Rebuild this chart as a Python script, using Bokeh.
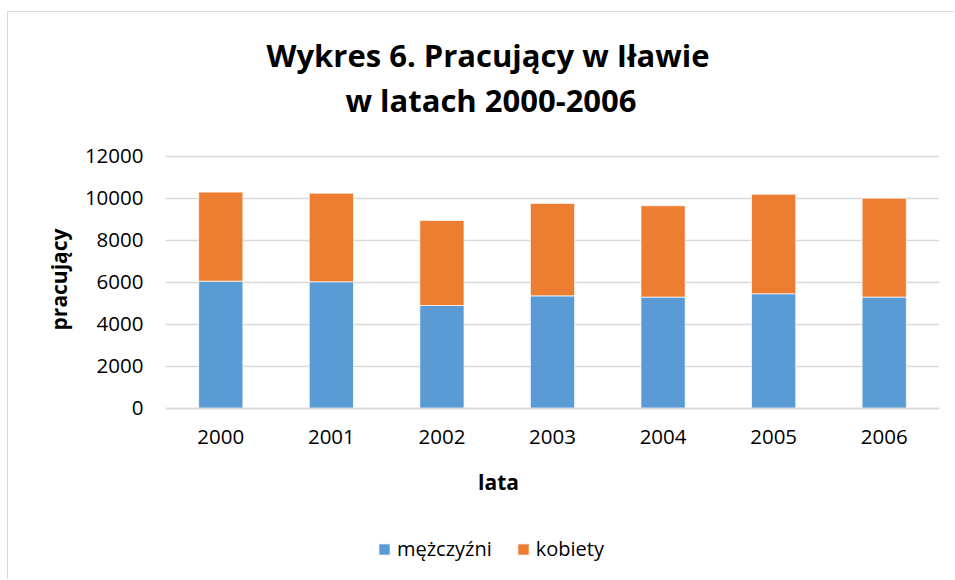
from bokeh.plotting import figure
from bokeh.models import (FactorRange, Range1d, FixedTicker, Title, Label,
                          Legend, LegendItem, ColumnDataSource)
from bokeh.embed import file_html
from bokeh.resources import INLINE

years = ["2000", "2001", "2002", "2003", "2004", "2005", "2006"]
men = [6050, 6020, 4890, 5350, 5290, 5450, 5290]
women = [4240, 4220, 4050, 4400, 4350, 4740, 4710]
series_names = ["mężczyźni", "kobiety"]
series_colors = ["#5B9BD5", "#ED7D31"]
y_ticks = [0, 2000, 4000, 6000, 8000, 10000, 12000]
title_lines = ["Wykres 6. Pracujący w Iławie", "w latach 2000-2006"]
x_title = "lata"
y_title = "pracujący"

FONT = "Open Sans"

source = ColumnDataSource(dict(year=years, men=men, women=women))

# The frame spans the whole chart height so that title, axis title and legend
# can be placed inside it; the value axis keeps 0..12000 in the plot area.
p = figure(width=947, height=568, output_backend="svg", toolbar_location=None,
           x_range=FactorRange(*years), y_range=Range1d(-8205, 18843),
           min_border_left=157, min_border_right=16,
           min_border_top=0, min_border_bottom=0)
p.styles = {"margin-left": "7px", "margin-top": "11px",
            "border-left": "1px solid #d9d9d9", "border-top": "1px solid #d9d9d9"}
p.outline_line_color = None
p.background_fill_color = "white"
p.border_fill_color = "white"

renderers = p.vbar_stack(["men", "women"], x="year", width=0.4, source=source,
                         color=series_colors, line_color="white",
                         line_width=1, line_alpha=0.7)

p.xgrid.grid_line_color = None
p.ygrid.ticker = FixedTicker(ticks=y_ticks)
p.ygrid.grid_line_color = "#d9d9d9"
p.ygrid.grid_line_width = 1.5

p.yaxis.ticker = FixedTicker(ticks=y_ticks)
p.yaxis.axis_line_color = None
p.yaxis.major_tick_line_color = None
p.yaxis.minor_tick_line_color = None
p.yaxis.major_tick_out = 0
p.yaxis.major_label_standoff = 22
p.yaxis.major_label_text_font = FONT
p.yaxis.major_label_text_font_size = "20.5px"
p.yaxis.major_label_text_color = "black"

p.xaxis.fixed_location = 0
p.xaxis.axis_line_color = "#d9d9d9"
p.xaxis.axis_line_width = 1.5
p.xaxis.major_tick_line_color = None
p.xaxis.minor_tick_line_color = None
p.xaxis.major_tick_out = 0
p.xaxis.major_label_standoff = 22
p.xaxis.major_label_text_font = FONT
p.xaxis.major_label_text_font_size = "20.5px"
p.xaxis.major_label_text_color = "black"

# y axis title, on the left of the tick labels
p.add_layout(Title(text=y_title, text_font=FONT, text_font_size="21px",
                   text_font_style="bold", text_color="black",
                   align="right", offset=216, standoff=18), "left")

common = dict(x_units="screen", y_units="screen", text_align="center",
              text_baseline="alphabetic", text_font=FONT, text_color="black",
              text_font_style="bold")
p.add_layout(Label(x=322.5, y=526, text=title_lines[0], text_font_size="31px", **common))
p.add_layout(Label(x=325.5, y=481, text=title_lines[1], text_font_size="31px", **common))
p.add_layout(Label(x=333, y=98.5, text=x_title, text_font_size="21px", **common))

legend = Legend(items=[LegendItem(label=series_names[i], renderers=[renderers[i]])
                       for i in range(2)],
                location=(212, 18), orientation="horizontal",
                glyph_width=14, glyph_height=14, label_standoff=6, spacing=24,
                padding=0, margin=0, border_line_color=None,
                background_fill_alpha=0,
                label_text_font=FONT, label_text_font_size="20px",
                label_text_color="black")
p.add_layout(legend, "center")

open("out.html", "w").write(file_html(p, INLINE))
